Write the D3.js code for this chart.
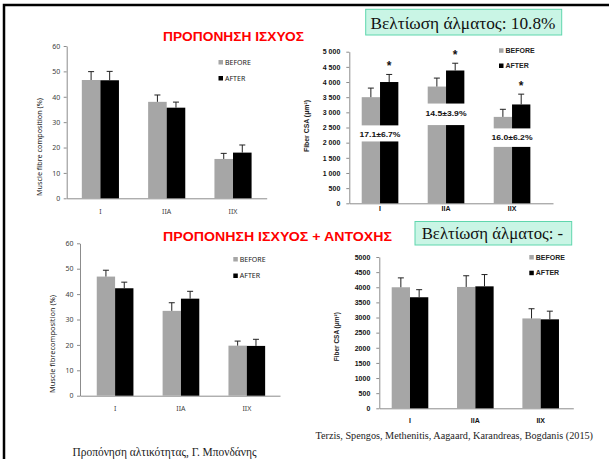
<!DOCTYPE html>
<html>
<head>
<meta charset="utf-8">
<script src="https://cdn.jsdelivr.net/npm/d3@7.9.0/dist/d3.min.js"></script>
<style>
  html, body { margin: 0; padding: 0; background: #fff; overflow: hidden; }
  svg { display: block; }
  .tick line, .domain { stroke: #8c8c8c; }
</style>
</head>
<body>
<div id="chart"></div>
<script>
// ---- data ----
const categories = ['I', 'IIA', 'IIX'];
const seriesNames = ['BEFORE', 'AFTER'];

// strength training, fibre composition (%)
const strengthPctBefore = [46.6, 38.0, 15.5];
const strengthPctBeforeErr = [3.3, 2.7, 2.2];
const strengthPctAfter = [46.5, 35.7, 18.0];
const strengthPctAfterErr = [3.5, 2.2, 3.0];

// strength + endurance, fibre composition (%)
const concurrentPctBefore = [46.9, 33.4, 19.7];
const concurrentPctBeforeErr = [2.5, 3.2, 1.8];
const concurrentPctAfter = [42.3, 38.2, 19.6];
const concurrentPctAfterErr = [2.4, 2.9, 2.6];

// strength training, fibre CSA (um2)
const strengthCsaBefore = [3500, 3850, 2850];
const strengthCsaBeforeErr = [300, 280, 250];
const strengthCsaAfter = [4000, 4380, 3260];
const strengthCsaAfterErr = [250, 240, 340];
const strengthCsaChange = ['17.1±6.7%', '14.5±3.9%', '16.0±6.2%'];
const strengthCsaGapLow = [2040, 2580, 1860];
const strengthCsaGapHigh = [2570, 3290, 2470];
const strengthCsaLabelAt = [2285, 2967, 2176];

// strength + endurance, fibre CSA (um2)
const concurrentCsaBefore = [4000, 4010, 2970];
const concurrentCsaBeforeErr = [310, 370, 320];
const concurrentCsaAfter = [3670, 4030, 2940];
const concurrentCsaAfterErr = [250, 390, 270];

const pctTicks = [0, 10, 20, 30, 40, 50, 60];
const csaTicks = [0, 500, 1000, 1500, 2000, 2500, 3000, 3500, 4000, 4500, 5000];
const csaTickLabelsTop = ['0', '500', '1 000', '1 500', '2 000', '2 500', '3 000', '3 500', '4 000', '4 500', '5 000'];
const csaTickLabelsBottom = ['0', '500', '1000', '1500', '2000', '2500', '3000', '3500', '4000', '4500', '5000'];

const W = 609, H = 459;
const grey = '#a6a6a6';
const colors = [grey, '#000'];

const svg = d3.select('#chart').append('svg')
  .attr('width', W).attr('height', H)
  .attr('viewBox', `0 0 ${W} ${H}`);

// slide frame
svg.append('path')
  .attr('d', `M4,${H} V5 H${W}`)
  .attr('fill', 'none').attr('stroke', '#000').attr('stroke-width', 2.5);

function rows(before, beforeErr, after, afterErr) {
  return categories.map((c, i) => ({
    cat: c,
    vals: [
      { key: 'BEFORE', v: before[i], e: beforeErr[i] },
      { key: 'AFTER', v: after[i], e: afterErr[i] }
    ]
  }));
}

function drawPanel(p) {
  const g = svg.append('g');
  const x = d3.scaleBand().domain(categories).range(p.xRange)
    .paddingInner(p.pin).paddingOuter(p.pout).align(p.align);
  const xs = d3.scaleBand().domain(seriesNames).range([0, x.bandwidth()]);
  const y = d3.scaleLinear().domain(p.domain).range(p.yRange);

  const family = p.bold ? "'Liberation Sans Narrow', 'Liberation Sans', Arial" : "'Noto Sans', 'Liberation Sans', Arial";
  const weight = p.bold ? 'bold' : 'normal';

  // y axis
  const ya = g.append('g')
    .attr('transform', `translate(${p.xRange[0]},0)`)
    .attr('font-family', family).attr('font-size', 7).attr('font-weight', weight)
    .call(d3.axisLeft(y).tickValues(p.ticks).tickSize(3).tickPadding(p.tickPad)
      .tickFormat((d, i) => p.tickLabels[i]).tickSizeOuter(0));
  ya.attr('font-family', family).attr('font-size', 7);
  ya.selectAll('text').attr('fill', p.bold ? '#111' : '#404040');

  // x axis
  const xa = g.append('g')
    .attr('transform', `translate(0,${p.yRange[0]})`)
    .call(d3.axisBottom(x).tickSize(0).tickPadding(p.xPad).tickSizeOuter(0));
  xa.attr('font-family', family).attr('font-size', 7).attr('font-weight', weight);
  xa.selectAll('text').attr('fill', p.bold ? '#111' : '#404040');

  // bars
  const grp = g.append('g').selectAll('g').data(p.data).join('g')
    .attr('transform', d => `translate(${x(d.cat)},0)`);

  grp.selectAll('rect').data(d => d.vals).join('rect')
    .attr('x', d => xs(d.key))
    .attr('width', xs.bandwidth())
    .attr('y', d => y(d.v))
    .attr('height', d => y(0) - y(d.v))
    .attr('fill', (d, i) => colors[i]);

  // error bars (upper only)
  const eb = grp.selectAll('g.err').data(d => d.vals).join('g').attr('class', 'err');
  eb.append('line')
    .attr('x1', d => xs(d.key) + xs.bandwidth() / 2)
    .attr('x2', d => xs(d.key) + xs.bandwidth() / 2)
    .attr('y1', d => y(d.v))
    .attr('y2', d => y(d.v + d.e))
    .attr('stroke', '#222').attr('stroke-width', 1);
  eb.append('line')
    .attr('x1', d => xs(d.key) + xs.bandwidth() / 2 - 3)
    .attr('x2', d => xs(d.key) + xs.bandwidth() / 2 + 3)
    .attr('y1', d => y(d.v + d.e))
    .attr('y2', d => y(d.v + d.e))
    .attr('stroke', '#222').attr('stroke-width', 1);

  // legend
  const lg = g.append('g').attr('transform', `translate(${p.legend[0]},${p.legend[1]})`);
  seriesNames.forEach((s, i) => {
    lg.append('rect').attr('x', 0).attr('y', i * p.legendGap)
      .attr('width', 4.5).attr('height', 4.5).attr('fill', colors[i]);
    lg.append('text').attr('x', 6.5).attr('y', i * p.legendGap + 4.6)
      .attr('font-family', family).attr('font-size', 7).attr('font-weight', weight)
      .attr('fill', '#222').text(s);
  });

  // y label
  g.append('text')
    .attr('transform', `translate(${p.yLabelPos[0]},${p.yLabelPos[1]}) rotate(-90)`)
    .attr('text-anchor', 'middle')
    .attr('font-family', family).attr('font-size', p.bold ? 6.5 : 6.8).attr('font-weight', weight)
    .attr('fill', '#222')
    .attr('textLength', p.yLabelLen).attr('lengthAdjust', 'spacingAndGlyphs')
    .text(p.yLabel);

  return { g, x, xs, y };
}

// top-left
drawPanel({
  data: rows(strengthPctBefore, strengthPctBeforeErr, strengthPctAfter, strengthPctAfterErr),
  xRange: [66.7, 266.7], pin: 0.44, pout: 0.228, align: 0.5,
  domain: [0, 60], yRange: [198.3, 46], ticks: pctTicks, tickLabels: pctTicks.map(String),
  tickPad: 3.5, xPad: 11, bold: false,
  legend: [218.5, 60], legendGap: 16,
  yLabel: 'Muscle fibre composition  (%)', yLabelPos: [41.5, 147], yLabelLen: 98
});

// bottom-left
drawPanel({
  data: rows(concurrentPctBefore, concurrentPctBeforeErr, concurrentPctAfter, concurrentPctAfterErr),
  xRange: [80, 280], pin: 0.443, pout: 0.24, align: 0.53,
  domain: [0, 60], yRange: [395.7, 243.3], ticks: pctTicks, tickLabels: pctTicks.map(String),
  tickPad: 3.5, xPad: 10, bold: false,
  legend: [233.3, 257], legendGap: 16.5,
  yLabel: 'Muscle fibrecomposition (%)', yLabelPos: [55, 344], yLabelLen: 98
});

// top-right
const tr = drawPanel({
  data: rows(strengthCsaBefore, strengthCsaBeforeErr, strengthCsaAfter, strengthCsaAfterErr),
  xRange: [349.3, 553], pin: 0.445, pout: 0.2655, align: 0.354,
  domain: [0, 5000], yRange: [203.3, 51.7], ticks: csaTicks, tickLabels: csaTickLabelsTop,
  tickPad: 6, xPad: 2.5, bold: true,
  legend: [499, 48.3], legendGap: 15.2,
  yLabel: 'Fiber CSA (μm²)', yLabelPos: [309, 126], yLabelLen: 52
});

// white gaps with change labels, and significance stars
categories.forEach((c, i) => {
  tr.g.append('rect')
    .attr('x', tr.x(c) - 1).attr('width', tr.x.bandwidth() + 2)
    .attr('y', tr.y(strengthCsaGapHigh[i]))
    .attr('height', tr.y(strengthCsaGapLow[i]) - tr.y(strengthCsaGapHigh[i]))
    .attr('fill', '#fff');
  tr.g.append('text')
    .attr('x', tr.x(c) + tr.x.bandwidth() / 2)
    .attr('y', tr.y(strengthCsaLabelAt[i]) + 3)
    .attr('text-anchor', 'middle')
    .style('font', "bold 8px 'Liberation Sans Narrow', 'Liberation Sans', Arial")
    .attr('textLength', 41).attr('lengthAdjust', 'spacingAndGlyphs')
    .attr('fill', '#111')
    .text(strengthCsaChange[i]);
  tr.g.append('text')
    .attr('x', tr.x(c) + tr.xs('AFTER') + tr.xs.bandwidth() / 2)
    .attr('y', tr.y(strengthCsaAfter[i] + strengthCsaAfterErr[i]) - 11 + 6.5)
    .attr('text-anchor', 'middle')
    .style('font', "bold 12px 'Liberation Sans', Arial")
    .attr('fill', '#111')
    .text('*');
});

// bottom-right
drawPanel({
  data: rows(concurrentCsaBefore, concurrentCsaBeforeErr, concurrentCsaAfter, concurrentCsaAfterErr),
  xRange: [379.3, 573.3], pin: 0.44, pout: 0.2045, align: 0.464,
  domain: [0, 5000], yRange: [408.3, 257], ticks: csaTicks, tickLabels: csaTickLabelsBottom,
  tickPad: 6, xPad: 10, bold: true,
  legend: [529.3, 255], legendGap: 15.7,
  yLabel: 'Fiber CSA (μm²)', yLabelPos: [338.5, 336.7], yLabelLen: 49
});

// titles
svg.append('text').attr('x', 163).attr('y', 41)
  .style('font', "bold 13.5px 'Liberation Sans', Arial").attr('fill', '#ff0000')
  .attr('textLength', 141).attr('lengthAdjust', 'spacingAndGlyphs')
  .text('ΠΡΟΠΟΝΗΣΗ ΙΣΧΥΟΣ');
svg.append('text').attr('x', 163).attr('y', 241)
  .style('font', "bold 13.5px 'Liberation Sans', Arial").attr('fill', '#ff0000')
  .attr('textLength', 229).attr('lengthAdjust', 'spacingAndGlyphs')
  .text('ΠΡΟΠΟΝΗΣΗ ΙΣΧΥΟΣ + ΑΝΤΟΧΗΣ');

// callout boxes
function callout(x0, y0, w, h, tx, ty, tlen, label) {
  svg.append('rect').attr('x', x0).attr('y', y0).attr('width', w).attr('height', h)
    .attr('fill', '#c9f5e5').attr('stroke', '#5fd6ad').attr('stroke-width', 1);
  svg.append('text').attr('x', tx).attr('y', ty)
    .style('font', "17px 'Liberation Serif', 'DejaVu Serif', serif").attr('fill', '#111')
    .attr('textLength', tlen).attr('lengthAdjust', 'spacingAndGlyphs')
    .text(label);
}
callout(365.7, 9.3, 196, 25.7, 370.5, 28.5, 185, 'Βελτίωση άλματος: 10.8%');
callout(415, 221.5, 156.7, 23.5, 421.7, 238.5, 141.5, 'Βελτίωση άλματος: -');

// citation and footer
svg.append('text').attr('x', 315.5).attr('y', 438.5)
  .style('font', "10.5px 'Liberation Serif', serif").attr('fill', '#222')
  .attr('textLength', 277.5).attr('lengthAdjust', 'spacingAndGlyphs')
  .text('Terzis, Spengos, Methenitis, Aagaard, Karandreas, Bogdanis (2015)');
svg.append('text').attr('x', 72.5).attr('y', 455.5)
  .style('font', "11.5px 'Liberation Serif', serif").attr('fill', '#222')
  .attr('textLength', 184).attr('lengthAdjust', 'spacingAndGlyphs')
  .text('Προπόνηση αλτικότητας, Γ. Μπονδάνης');
</script>
</body>
</html>
